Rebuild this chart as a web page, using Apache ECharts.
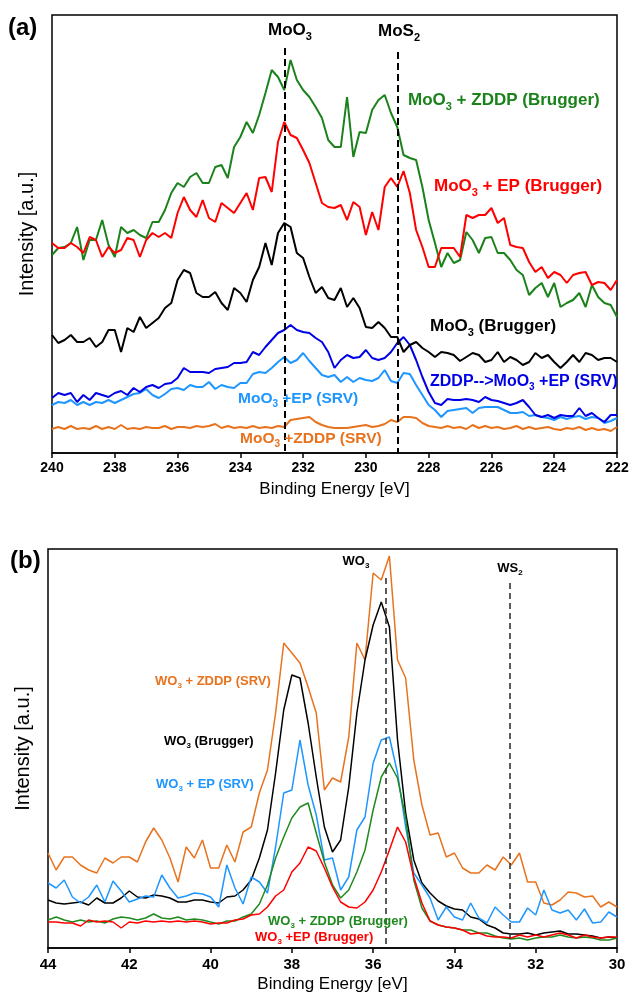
<!DOCTYPE html>
<html>
<head>
<meta charset="utf-8">
<script src="https://cdn.jsdelivr.net/npm/echarts@6/dist/echarts.min.js"></script>
<style>
html, body { margin: 0; padding: 0; background: #fff; }
#chart { width: 629px; height: 994px; }
</style>
</head>
<body>
<div id="chart"></div>
<script>
// ---- panel (a): Mo 3d, 240 -> 222 eV, 0.2 eV steps ----
var ticksA = [240, 238, 236, 234, 232, 230, 228, 226, 224, 222];
var greenA = [175,182,183,187,203,170,190,190,210,185,173,203,197,200,195,192,208,208,220,237,247,
  243,253,257,247,247,263,265,252,283,293,
  308,297,315,337,360,353,340,370,350,340,
  333,323,312,290,283,283,333,273,298,297,
  320,330,335,317,303,275,272,270,243,210,
  187,163,177,167,170,198,190,177,192,193,
  177,177,170,160,155,135,142,147,133,147,
  123,127,130,137,123,145,133,127,125,113];
var redA = [187,182,182,187,183,177,193,190,173,183,177,180,192,190,173,190,197,193,197,192,217,
  233,220,213,230,212,208,227,222,217,227,
  237,220,252,253,238,288,308,295,292,280,
  267,247,227,223,222,225,210,228,223,195,
  218,200,243,252,243,259,237,200,183,163,
  163,182,182,182,173,215,212,215,215,222,
  207,212,185,183,182,168,158,163,152,158,
  155,147,155,157,158,145,148,147,140,150];
var blackA = [95,87,90,95,88,88,92,83,88,100,100,78,102,98,113,102,107,112,122,127,150,
  160,157,137,133,133,138,127,120,142,137,
  128,150,163,187,165,197,207,203,177,172,
  153,137,143,132,130,142,123,132,122,103,
  102,108,102,93,93,78,85,88,82,78,
  73,78,77,75,69,73,77,75,68,70,
  78,68,73,70,65,68,77,72,75,68,
  62,68,75,68,77,75,70,72,72,68];
var blueA = [32,37,35,37,28,35,30,37,35,33,37,39,35,42,38,43,45,42,46,47,52,
  62,58,58,58,57,61,62,63,67,67,
  68,78,75,83,90,97,100,105,100,98,
  97,92,88,78,62,70,75,72,73,80,
  72,70,72,78,87,93,85,70,53,38,
  27,25,31,30,30,31,30,28,33,30,
  29,27,25,27,30,23,15,13,15,12,
  15,14,14,22,14,17,12,8,15,15];
var lightA = [25,28,27,30,25,28,25,28,27,30,27,30,33,36,37,41,35,32,36,41,42,
  40,45,43,43,48,41,45,43,42,47,
  47,56,58,57,62,68,73,67,70,77,
  69,62,55,53,55,48,53,48,52,50,
  49,52,60,49,47,57,56,45,35,25,
  20,13,19,20,21,22,17,22,23,23,
  23,20,17,17,18,14,15,13,12,10,
  13,11,13,14,11,13,12,7,9,12];
var orangeA = [1,3,1,4,1,2,1,4,1,3,1,5,1,2,1,3,2,2,4,1,3,
  3,2,4,3,4,6,2,4,2,3,
  2,4,2,3,2,4,3,10,11,12,
  13,8,5,3,2,2,2,3,4,5,
  3,4,6,10,8,13,13,12,7,4,
  3,2,4,2,3,1,5,2,4,2,
  3,1,2,4,1,3,1,2,3,1,
  0,2,1,3,0,2,0,1,-1,3];

// ---- panel (b): W 4f, 44 -> 30 eV, 0.2 eV steps ----
var ticksB = [44, 42, 40, 38, 36, 34, 32, 30];
var orangeB = [95,78,91,91,83,78,75,90,85,91,
  91,86,106,120,108,90,66,101,90,108,
  80,80,103,86,116,121,155,178,235,305,
  295,285,261,235,158,170,166,211,305,288,
  375,368,392,288,270,188,143,113,115,91,
  95,80,75,75,83,78,91,83,95,66,
  66,45,43,48,56,55,51,52,41,46,
  41];
var blackB = [48,45,44,45,46,43,50,45,45,50,
  57,51,50,53,52,50,46,46,48,48,
  46,45,51,52,58,68,90,118,175,238,
  273,270,225,171,121,96,108,161,235,288,
  323,346,321,208,135,88,65,55,47,42,
  39,38,31,29,23,20,15,14,14,15,
  13,15,16,17,14,14,13,12,10,11,
  10];
var lightB = [65,60,68,51,45,51,63,46,67,57,
  46,49,52,51,73,60,50,52,55,54,
  51,41,83,60,44,71,66,55,101,155,
  158,208,163,133,88,90,58,71,118,131,
  185,208,211,175,121,75,63,50,28,41,
  31,28,45,30,25,41,33,26,26,40,
  33,58,38,35,38,28,39,25,26,36,
  31];
var greenB = [28,31,28,26,28,26,27,25,29,31,
  30,28,30,34,30,29,31,28,29,28,
  26,24,27,27,31,34,44,63,90,111,
  130,141,145,115,86,63,50,58,76,98,
  138,171,185,170,130,68,40,27,23,21,
  20,18,18,15,15,12,10,9,10,8,
  10,11,11,13,11,10,11,10,8,8,
  10];
var redB = [26,26,25,25,22,28,26,27,26,20,
  26,25,27,26,27,26,27,26,27,26,
  24,25,25,28,29,33,34,41,52,58,
  76,85,101,97,80,61,46,41,40,46,
  58,76,98,121,106,71,45,27,23,21,
  20,18,14,15,12,11,11,10,13,11,
  13,11,13,15,13,10,13,11,10,11,
  11];

// reference lines (eV) and where their dashes start (same units as the intensities)
var moO3Pos = 232.6, moS2Pos = 229.0, wO3Pos = 35.7, wS2Pos = 32.65;

var eA = [], eB = [];
for (var i = 0; i < greenA.length; i++) eA.push(+(240 - 0.2 * i).toFixed(1));
for (var j = 0; j < orangeB.length; j++) eB.push(+(44 - 0.2 * j).toFixed(1));

function pairs(xs, ys) {
    return xs.map(function (x, k) { return [x, ys[k]]; });
}

var FONT = '"Liberation Sans", Arial, sans-serif';
var C = {
    green: '#1b821b', red: '#ff0000', black: '#000000', blue: '#0000e6',
    light: '#1e96ff', orange: '#e8731e', greenB: '#1f8a1f'
};

function lineSeries(name, xs, ys, color, width, idx) {
    return {
        name: name, type: 'line', xAxisIndex: idx, yAxisIndex: idx,
        data: pairs(xs, ys), symbol: 'none', silent: true,
        lineStyle: { color: color, width: width }
    };
}

// text with a subscript digit: pieces = [before, sub, after]
function subLabel(pieces, x, y, color, size, align) {
    var lh = Math.round(size * 1.15);
    var txt = '{m|' + pieces[0] + '}{s|' + pieces[1] + '}' + (pieces[2] ? '{m|' + pieces[2] + '}' : '');
    return {
        type: 'text', x: x, y: y, silent: true, z: 100,
        style: {
            text: txt, fill: color, fontFamily: FONT, fontWeight: 'bold', fontSize: size,
            align: align || 'left', verticalAlign: 'middle',
            textAlign: align || 'left', textVerticalAlign: 'middle',
            rich: {
                m: { fontFamily: FONT, fontWeight: 'bold', fontSize: size, fill: color, verticalAlign: 'top', lineHeight: lh },
                s: { fontFamily: FONT, fontWeight: 'bold', fontSize: Math.round(size * 0.65), fill: color, verticalAlign: 'bottom', lineHeight: lh }
            }
        }
    };
}

function plainText(text, x, y, size) {
    return {
        type: 'text', x: x, y: y, silent: true, z: 100,
        style: {
            text: text, fill: '#000', fontFamily: FONT, fontWeight: 'bold', fontSize: size,
            align: 'left', verticalAlign: 'middle', textAlign: 'left', textVerticalAlign: 'middle'
        }
    };
}

function xAxisCfg(idx, ticks, labelSize, margin) {
    return {
        gridIndex: idx, type: 'value', inverse: true,
        min: Math.min.apply(null, ticks), max: Math.max.apply(null, ticks),
        interval: ticks[0] - ticks[1],
        axisLine: { show: true, onZero: false, lineStyle: { color: '#000', width: 1.5 } },
        axisTick: { show: true, length: 5, lineStyle: { color: '#000', width: 1.5 } },
        axisLabel: { color: '#000', fontFamily: FONT, fontWeight: 'bold', fontSize: labelSize, margin: margin,
            showMinLabel: true, showMaxLabel: true },
        splitLine: { show: false },
        name: 'Binding Energy [eV]', nameLocation: 'middle', nameGap: 28,
        nameTextStyle: { color: '#000', fontFamily: FONT, fontSize: 17 }
    };
}

function yAxisCfg(idx, min, max) {
    return {
        gridIndex: idx, type: 'value', min: min, max: max,
        axisLine: { show: false }, axisTick: { show: false }, axisLabel: { show: false },
        splitLine: { show: false },
        name: 'Intensity [a.u.]', nameLocation: 'middle', nameGap: 15, nameRotate: 90,
        nameTextStyle: { color: '#000', fontFamily: FONT, fontSize: 20 }
    };
}

var dashA = { type: [7, 4], color: '#000', width: 2 };
var dashB = { type: [6, 4], color: '#333', width: 1.6 };

var seriesA = [
    lineSeries('MoO3 + ZDDP (SRV)', eA, orangeA, C.orange, 2, 0),
    lineSeries('MoO3 + EP (SRV)', eA, lightA, C.light, 2, 0),
    lineSeries('ZDDP-->MoO3 + EP (SRV)', eA, blueA, C.blue, 2, 0),
    lineSeries('MoO3 (Brugger)', eA, blackA, C.black, 2, 0),
    lineSeries('MoO3 + ZDDP (Brugger)', eA, greenA, C.green, 2, 0),
    lineSeries('MoO3 + EP (Brugger)', eA, redA, C.red, 2, 0)
];
seriesA[3].markLine = {
    silent: true, symbol: 'none', animation: false, label: { show: false }, lineStyle: dashA,
    data: [
        [{ coord: [moO3Pos, 382] }, { coord: [moO3Pos, -23] }],
        [{ coord: [moS2Pos, 378] }, { coord: [moS2Pos, -23] }]
    ]
};

var seriesB = [
    lineSeries('WO3 + ZDDP (SRV)', eB, orangeB, C.orange, 1.5, 1),
    lineSeries('WO3 (Brugger)', eB, blackB, C.black, 1.5, 1),
    lineSeries('WO3 + EP (SRV)', eB, lightB, C.light, 1.5, 1),
    lineSeries('WO3 + ZDDP (Brugger)', eB, greenB, C.greenB, 1.5, 1),
    lineSeries('WO3 + EP (Brugger)', eB, redB, C.red, 1.5, 1)
];
seriesB[1].markLine = {
    silent: true, symbol: 'none', animation: false, label: { show: false }, lineStyle: dashB,
    data: [
        [{ coord: [wO3Pos, 370] }, { coord: [wO3Pos, 0] }],
        [{ coord: [wS2Pos, 365] }, { coord: [wS2Pos, 0] }]
    ]
};

var chart = echarts.init(document.getElementById('chart'));

var option = {
    animation: false,
    backgroundColor: '#fff',
    grid: [
        { left: 52, top: 15, width: 565, height: 438, show: true, borderColor: '#000', borderWidth: 1.5,
          containLabel: false, outerBoundsMode: 'none' },
        { left: 48, top: 549, width: 569, height: 399, show: true, borderColor: '#000', borderWidth: 1.5,
          containLabel: false, outerBoundsMode: 'none' }
    ],
    xAxis: [xAxisCfg(0, ticksA, 14, 8), xAxisCfg(1, ticksB, 15, 9)],
    yAxis: [yAxisCfg(0, -23, 415), yAxisCfg(1, 0, 399)],
    series: seriesA.concat(seriesB),
    graphic: [
        plainText('(a)', 8, 28, 24),
        plainText('(b)', 10, 561, 24),
        subLabel(['MoO', '3', ''], 290, 32, C.black, 17, 'center'),
        subLabel(['MoS', '2', ''], 399, 33, C.black, 17, 'center'),
        subLabel(['MoO', '3', ' + ZDDP (Brugger)'], 408, 102, C.green, 17),
        subLabel(['MoO', '3', ' + EP (Brugger)'], 434, 188, C.red, 17),
        subLabel(['MoO', '3', ' (Brugger)'], 430, 328, C.black, 17),
        subLabel(['ZDDP-->MoO', '3', ' +EP (SRV)'], 430, 383, C.blue, 16),
        subLabel(['MoO', '3', ' +EP (SRV)'], 238, 400, C.light, 15.5),
        subLabel(['MoO', '3', ' +ZDDP (SRV)'], 240, 440, C.orange, 15.5),
        subLabel(['WO', '3', ''], 356, 562, C.black, 13, 'center'),
        subLabel(['WS', '2', ''], 510, 569, C.black, 13, 'center'),
        subLabel(['WO', '3', ' + ZDDP (SRV)'], 155, 682, C.orange, 13),
        subLabel(['WO', '3', ' (Brugger)'], 164, 742, C.black, 13),
        subLabel(['WO', '3', ' + EP (SRV)'], 156, 785, C.light, 13),
        subLabel(['WO', '3', ' + ZDDP (Brugger)'], 268, 922, C.greenB, 13),
        subLabel(['WO', '3', ' +EP (Brugger)'], 255, 938, C.red, 13)
    ]
};

chart.setOption(option);
</script>
</body>
</html>
